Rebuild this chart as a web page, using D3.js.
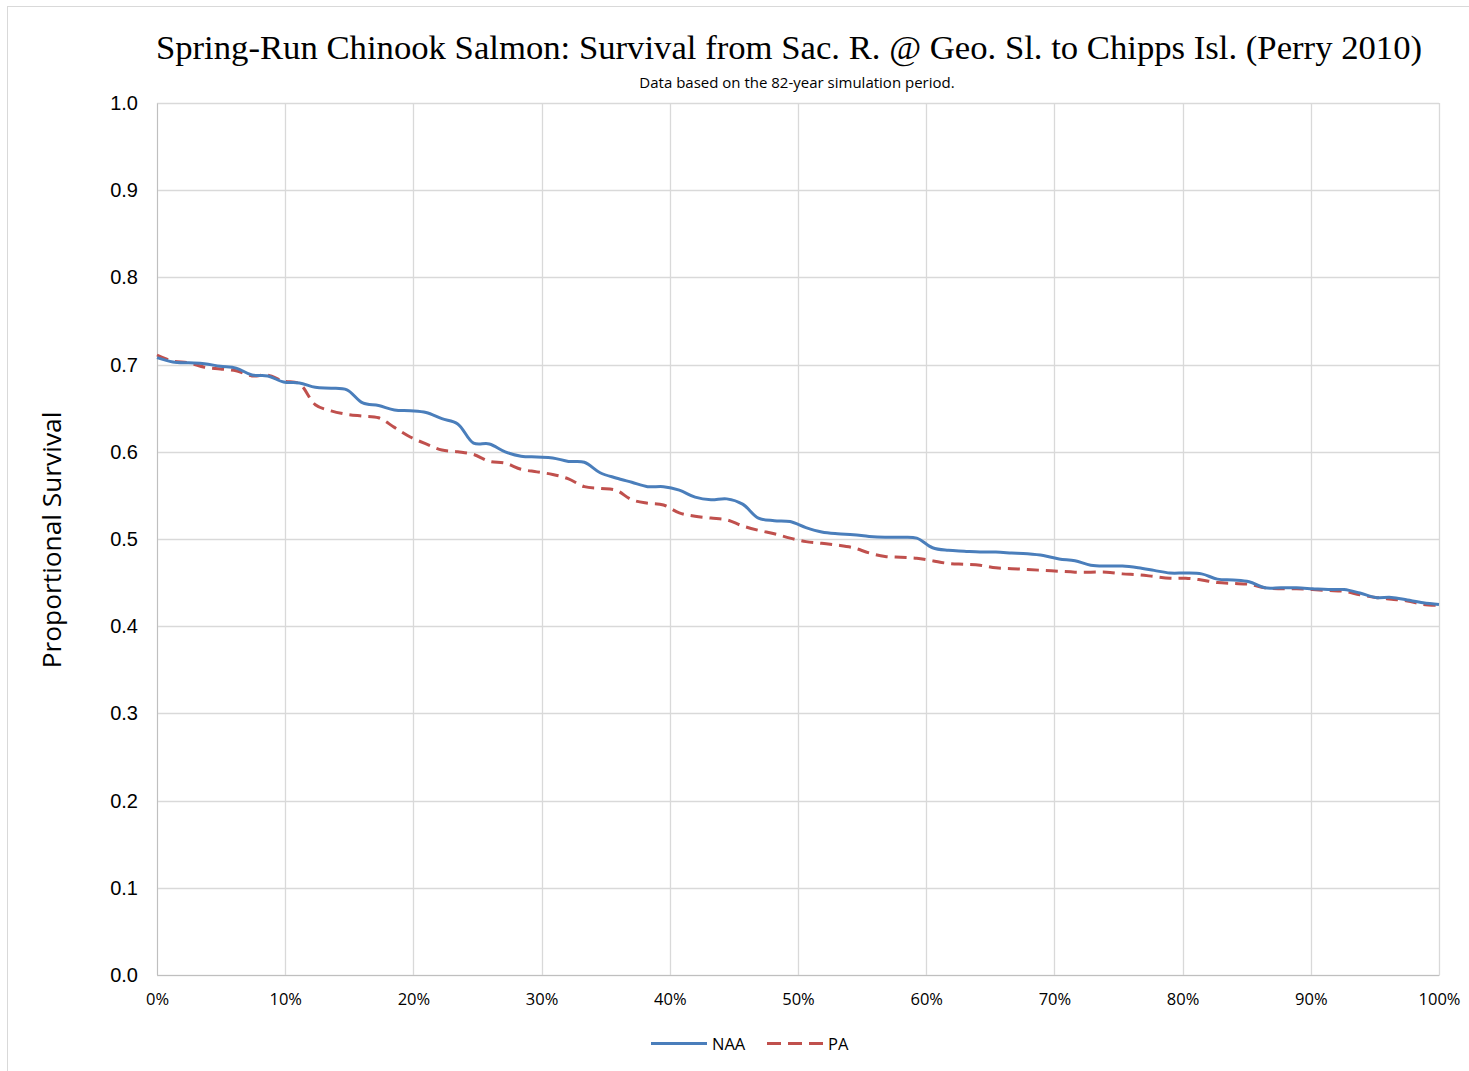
<!DOCTYPE html>
<html>
<head>
<meta charset="utf-8">
<script src="https://cdn.jsdelivr.net/npm/d3@7"></script>
<style>
  body { margin: 0; background: #fff; }
</style>
</head>
<body>
<div id="chart"></div>
<script>
// chart values (82-year simulation, sorted)
var seriesNames = ["NAA", "PA"];
var naaValues = [0.708, 0.703, 0.702, 0.701, 0.698, 0.696, 0.688, 0.687, 0.680, 0.679,
  0.674, 0.673, 0.671, 0.656, 0.653, 0.648, 0.647, 0.645, 0.638, 0.632,
  0.610, 0.609, 0.600, 0.595, 0.594, 0.593, 0.589, 0.588, 0.576, 0.570,
  0.565, 0.560, 0.560, 0.556, 0.548, 0.545, 0.546, 0.540, 0.524, 0.521,
  0.520, 0.513, 0.508, 0.506, 0.505, 0.503, 0.502, 0.502, 0.501, 0.490,
  0.487, 0.486, 0.485, 0.485, 0.484, 0.483, 0.481, 0.477, 0.475, 0.470,
  0.469, 0.469, 0.467, 0.464, 0.461, 0.461, 0.460, 0.454, 0.453, 0.451,
  0.444, 0.444, 0.444, 0.443, 0.442, 0.442, 0.438, 0.433, 0.433, 0.430,
  0.427, 0.425];
var paValues = [0.711, 0.704, 0.702, 0.697, 0.695, 0.693, 0.687, 0.688, 0.681, 0.678,
  0.654, 0.647, 0.643, 0.641, 0.639, 0.628, 0.617, 0.609, 0.602, 0.600,
  0.597, 0.589, 0.587, 0.580, 0.577, 0.574, 0.569, 0.560, 0.558, 0.556,
  0.545, 0.541, 0.539, 0.530, 0.526, 0.524, 0.522, 0.515, 0.510, 0.506,
  0.501, 0.497, 0.495, 0.493, 0.490, 0.484, 0.480, 0.479, 0.478, 0.475,
  0.472, 0.471, 0.470, 0.467, 0.466, 0.465, 0.464, 0.463, 0.462, 0.462,
  0.462, 0.460, 0.459, 0.457, 0.455, 0.455, 0.453, 0.450, 0.449, 0.448,
  0.444, 0.443, 0.443, 0.442, 0.441, 0.440, 0.436, 0.433, 0.431, 0.429,
  0.425, 0.424];
var yTicks = [0, 0.1, 0.2, 0.3, 0.4, 0.5, 0.6, 0.7, 0.8, 0.9, 1.0];
var xTicks = [0, 0.1, 0.2, 0.3, 0.4, 0.5, 0.6, 0.7, 0.8, 0.9, 1.0];

var titleText = "Spring-Run Chinook Salmon: Survival from Sac. R. @ Geo. Sl. to Chipps Isl. (Perry 2010)";
var subtitleText = "Data based on the 82-year simulation period.";
var yTitle = "Proportional Survival";

var naaColor = "#4a7ebb";
var paColor = "#c0504d";
var gridColor = "#d9d9d9";

var width = 1469,
    height = 1071;
var margin = { top: 103, right: 30, bottom: 96, left: 157 };

var svg = d3.select("#chart").append("svg")
    .attr("width", width)
    .attr("height", height);

// outer chart border
svg.append("rect")
    .attr("x", 7.5)
    .attr("y", 6.5)
    .attr("width", width)
    .attr("height", height)
    .attr("fill", "none")
    .attr("stroke", "#d9d9d9")
    .attr("stroke-width", 1);

var x = d3.scaleLinear().domain([0, 1]).range([margin.left, width - margin.right]);
var y = d3.scaleLinear().domain([0, 1]).range([height - margin.bottom, margin.top]);

// gridlines
svg.append("g")
    .selectAll("line.hgrid")
    .data(yTicks)
    .enter().append("line")
    .attr("x1", x(0)).attr("x2", x(1))
    .attr("y1", function(d) { return Math.round(y(d)) + 0.5; })
    .attr("y2", function(d) { return Math.round(y(d)) + 0.5; })
    .attr("stroke", gridColor)
    .attr("stroke-width", 1.3);

svg.append("g")
    .selectAll("line.vgrid")
    .data(xTicks)
    .enter().append("line")
    .attr("y1", y(0)).attr("y2", y(1))
    .attr("x1", function(d) { return Math.round(x(d)) + 0.5; })
    .attr("x2", function(d) { return Math.round(x(d)) + 0.5; })
    .attr("stroke", gridColor)
    .attr("stroke-width", 1.3);

// y axis
var yAxis = svg.append("g")
    .attr("transform", "translate(" + x(0) + ",0)")
    .call(d3.axisLeft(y).tickValues(yTicks).tickFormat(d3.format(".1f")).tickSize(0).tickPadding(19));
yAxis.select(".domain").attr("stroke", "#bfbfbf");
yAxis.selectAll("text")
    .attr("font-family", "Liberation Sans, Arial, sans-serif")
    .attr("font-size", 20)
    .attr("fill", "#000");

// x axis
var xAxis = svg.append("g")
    .attr("transform", "translate(0," + y(0) + ")")
    .call(d3.axisBottom(x).tickValues(xTicks).tickFormat(d3.format(".0%")).tickSize(0).tickPadding(18));
xAxis.select(".domain").attr("stroke", "#bfbfbf");
xAxis.selectAll("text")
    .attr("font-family", "Open Sans, sans-serif")
    .attr("font-size", 16.5)
    .attr("fill", "#000");

// lines
var line = d3.line()
    .x(function(d, i) { return x(i / (naaValues.length - 1)); })
    .y(function(d) { return y(d); })
    .curve(d3.curveCatmullRom.alpha(0.5));

svg.append("path")
    .datum(paValues)
    .attr("fill", "none")
    .attr("stroke", paColor)
    .attr("stroke-width", 3)
    .attr("stroke-dasharray", "12,7")
    .attr("d", line);

svg.append("path")
    .datum(naaValues)
    .attr("fill", "none")
    .attr("stroke", naaColor)
    .attr("stroke-width", 3)
    .attr("d", line);

// titles
svg.append("text")
    .attr("x", 789)
    .attr("y", 59)
    .attr("text-anchor", "middle")
    .attr("font-family", "Liberation Serif, Times New Roman, serif")
    .attr("font-size", 34.7)
    .attr("fill", "#000")
    .text(titleText);

svg.append("text")
    .attr("x", 797)
    .attr("y", 88)
    .attr("text-anchor", "middle")
    .attr("font-family", "Open Sans, sans-serif")
    .attr("font-size", 15)
    .attr("fill", "#000")
    .text(subtitleText);

svg.append("text")
    .attr("transform", "translate(61,540) rotate(-90)")
    .attr("text-anchor", "middle")
    .attr("font-family", "Open Sans, sans-serif")
    .attr("font-size", 26.3)
    .attr("fill", "#000")
    .text(yTitle);

// legend
var legendItems = [
    { name: seriesNames[0], color: naaColor, dash: null, x0: 651 },
    { name: seriesNames[1], color: paColor, dash: "14,7", x0: 767 }
];
var legend = svg.append("g");
legendItems.forEach(function(it) {
    legend.append("line")
        .attr("x1", it.x0).attr("x2", it.x0 + 56)
        .attr("y1", 1043.5).attr("y2", 1043.5)
        .attr("stroke", it.color)
        .attr("stroke-width", 3)
        .attr("stroke-dasharray", it.dash);
    legend.append("text")
        .attr("x", it.x0 + 61)
        .attr("y", 1049.5)
        .attr("font-family", "Open Sans, sans-serif")
        .attr("font-size", 16.5)
        .attr("fill", "#000")
        .text(it.name);
});
</script>
</body>
</html>
